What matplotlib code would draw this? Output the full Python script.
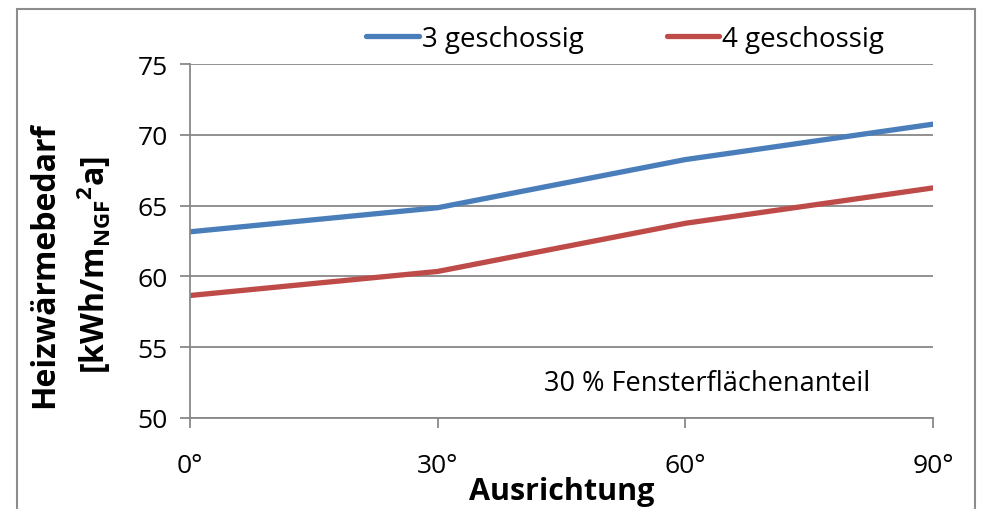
import matplotlib
matplotlib.use('Agg')
from matplotlib import pyplot as plt
from matplotlib.patches import Rectangle

plt.rcParams['font.family'] = ['Open Sans', 'DejaVu Sans']
plt.rcParams['mathtext.fontset'] = 'custom'
plt.rcParams['mathtext.rm'] = 'Open Sans'
plt.rcParams['mathtext.bf'] = 'Open Sans:bold'

# data
angles = [0, 30, 60, 90]
angle_labels = ['0°', '30°', '60°', '90°']
geschossig_3 = [63.15, 64.85, 68.25, 70.75]
geschossig_4 = [58.65, 60.35, 63.75, 66.25]
y_ticks = [50, 55, 60, 65, 70, 75]

BLUE = '#4A7EBB'
RED = '#BE4B48'
GRID = '#888888'

fig = plt.figure(figsize=(9.82, 5.10), dpi=100)
ax = fig.add_axes([190/982, 1-419/510, (933-190)/982, (419-65)/510])

# outer chart frame
fig.patches.append(Rectangle((17/982, -0.2), (975-17)/982, 1.2-10/510,
                             transform=fig.transFigure, fill=False,
                             edgecolor='#8c8c8c', linewidth=1.5))

ax.plot(angles, geschossig_3, color=BLUE, lw=3.8, solid_capstyle='round', label='3 geschossig')
ax.plot(angles, geschossig_4, color=RED, lw=3.8, solid_capstyle='round', label='4 geschossig')

ax.set_xlim(0, 90)
ax.set_ylim(50, 75)
ax.set_xticks(angles)
ax.set_xticklabels(angle_labels)
ax.set_yticks(y_ticks)
ax.yaxis.grid(True, color=GRID, lw=1.3)
ax.set_axisbelow(True)
for s in ['top', 'right']:
    ax.spines[s].set_visible(False)
for s in ['left', 'bottom']:
    ax.spines[s].set_color(GRID)
    ax.spines[s].set_linewidth(1.3)
ax.tick_params(axis='both', labelsize=19, color=GRID, width=1.3, length=7)
ax.tick_params(axis='x', pad=18)
ax.tick_params(axis='y', pad=9)

ax.set_xlabel('Ausrichtung', fontsize=22, fontweight='bold')
ax.xaxis.set_label_coords(0.5, -0.165)
ax.set_ylabel('Heizwärmebedarf\n[kWh/m$_{\\mathbf{NGF}}$$^{\\mathbf{2}}$a]',
              fontsize=23, fontweight='bold', linespacing=1.45)
ax.yaxis.set_label_coords(-0.103, 0.435)

ax.text(62.6, 52.5, '30 % Fensterflächenanteil', fontsize=19.5, ha='center', va='center')

ax.legend(loc='center', bbox_to_anchor=(625/982, 1-40/510), bbox_transform=fig.transFigure,
          ncol=2, frameon=False, fontsize=20, handlelength=1.9, handletextpad=0.1,
          columnspacing=3.0)

fig.savefig('out.png', dpi=100)
